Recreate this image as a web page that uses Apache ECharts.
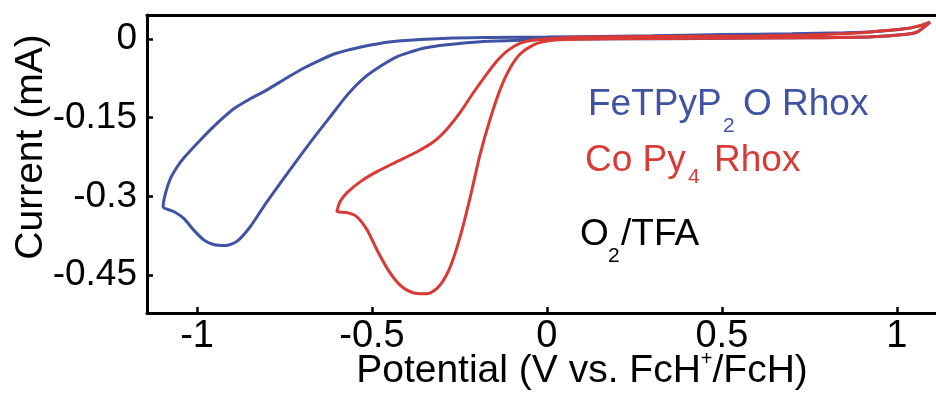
<!DOCTYPE html>
<html><head><meta charset="utf-8">
<script src="https://cdn.jsdelivr.net/npm/echarts@6/dist/echarts.min.js"></script>
<style>html,body{margin:0;padding:0;background:#fff}#c{width:936px;height:396px}</style>
</head><body><div id="c"></div>
<script>
const FONT = '"Liberation Sans", Arial, Helvetica, sans-serif';
const BLUE = '#3f52a3';
const RED = '#d93a36';

const xTickValues = [-1, -0.5, 0, 0.5, 1];
const xTickLabels = ['-1', '-0.5', '0', '0.5', '1'];
const yTickValues = [0, -0.15, -0.3, -0.45];
const yTickLabels = ['0', '-0.15', '-0.3', '-0.45'];

// FeTPyP2O Rhox cyclic voltammogram (V, mA)
const feX = [1.095, 1.06, 1.028, 0.932, 0.743, 0.45, 0.2, 0.0, -0.048, -0.19, -0.286, -0.35, -0.391, -0.429, -0.476, -0.524, -0.571, -0.619, -0.667, -0.714, -0.762, -0.810, -0.848, -0.886, -0.919, -0.953, -0.981, -1.010, -1.038, -1.067, -1.097,
  -1.090, -1.076, -1.057, -1.038, -0.991, -0.943, -0.895, -0.848, -0.800, -0.753, -0.705, -0.657, -0.610, -0.562, -0.5, -0.457, -0.362, -0.268, -0.171, 0.0, 0.3, 0.5, 0.7, 0.85, 0.932, 1.028, 1.07, 1.095];
const feY = [0.032, 0.014, 0.009, 0.0045, 0.0025, 0.0012, 0.0003, -0.0005, -0.002, -0.005, -0.011, -0.017, -0.025, -0.034, -0.052, -0.075, -0.107, -0.148, -0.189, -0.231, -0.275, -0.320, -0.358, -0.386, -0.394, -0.392, -0.383, -0.364, -0.342, -0.329, -0.320,
  -0.294, -0.266, -0.244, -0.227, -0.193, -0.161, -0.133, -0.114, -0.097, -0.078, -0.059, -0.043, -0.029, -0.020, -0.011, -0.006, -0.001, 0.002, 0.003, 0.004, 0.006, 0.0085, 0.010, 0.012, 0.014, 0.020, 0.026, 0.032];

// Co Py4 Rhox cyclic voltammogram (V, mA)
const coX = [1.095, 1.06, 1.028, 0.932, 0.743, 0.45, 0.2, 0.05, 0.0, -0.038, -0.076, -0.105, -0.133, -0.162, -0.191, -0.219, -0.248, -0.276, -0.305, -0.333, -0.362, -0.400, -0.429, -0.457, -0.486, -0.514, -0.543, -0.571, -0.600,
  -0.591, -0.571, -0.533, -0.486, -0.429, -0.371, -0.324, -0.286, -0.248, -0.210, -0.171, -0.143, -0.114, -0.076, -0.038, 0.067, 0.3, 0.6, 0.743, 0.846, 0.932, 1.028, 1.07, 1.095];
const coY = [0.032, 0.014, 0.009, 0.0045, 0.0025, 0.0013, 0.0005, -0.001, -0.004, -0.011, -0.028, -0.055, -0.095, -0.152, -0.220, -0.301, -0.377, -0.434, -0.469, -0.484, -0.486, -0.479, -0.463, -0.437, -0.402, -0.364, -0.339, -0.331, -0.329,
  -0.310, -0.293, -0.272, -0.253, -0.234, -0.215, -0.196, -0.172, -0.140, -0.102, -0.066, -0.042, -0.023, -0.008, -0.002, 0.003, 0.005, 0.0058, 0.0075, 0.010, 0.014, 0.020, 0.026, 0.032];

const feData = feX.map((x, i) => [x, feY[i]]);
const coData = coX.map((x, i) => [x, coY[i]]);

function labelFor(values, labels) {
  return v => {
    for (let i = 0; i < values.length; i++) if (Math.abs(v - values[i]) < 1e-6) return labels[i];
    return '';
  };
}

const chart = echarts.init(document.getElementById('c'), null, { renderer: 'canvas' });
const axisLineStyle = { color: '#000', width: 3 };
chart.setOption({
  animation: false,
  backgroundColor: '#fff',
  grid: { left: 147, right: 0, top: 15, bottom: 83, containLabel: false },
  xAxis: [{
    type: 'value', min: -1.143, max: 1.112, minInterval: 0.5, maxInterval: 0.5,
    axisLine: { show: true, onZero: false, lineStyle: axisLineStyle },
    axisTick: { show: true, inside: true, length: 6, lineStyle: { color: '#000', width: 2.5 } },
    axisLabel: { show: true, margin: 5, fontFamily: FONT, fontSize: 38, color: '#000', showMinLabel: false, showMaxLabel: false,
      formatter: labelFor(xTickValues, xTickLabels) },
    splitLine: { show: false }
  }, {
    type: 'value', position: 'top', min: -1.143, max: 1.112,
    axisLine: { show: true, onZero: false, lineStyle: axisLineStyle },
    axisTick: { show: false }, axisLabel: { show: false }, splitLine: { show: false }
  }],
  yAxis: {
    type: 'value', min: -0.5225, max: 0.0458, minInterval: 0.15, maxInterval: 0.15,
    axisLine: { show: true, onZero: false, lineStyle: axisLineStyle },
    axisTick: { show: true, inside: true, length: 6, lineStyle: { color: '#000', width: 2.5 } },
    axisLabel: { show: true, margin: 10, fontFamily: FONT, fontSize: 37, color: '#000', showMinLabel: false, showMaxLabel: false,
      padding: [9, 0, 0, 0], formatter: labelFor(yTickValues, yTickLabels) },
    splitLine: { show: false }
  },
  series: [
    { name: 'FeTPyP2O Rhox', type: 'line', data: feData, showSymbol: false, smooth: 0.25, clip: true,
      lineStyle: { color: BLUE, width: 3 }, itemStyle: { color: BLUE } },
    { name: 'Co Py4 Rhox', type: 'line', data: coData, showSymbol: false, smooth: 0.25, clip: true,
      lineStyle: { color: RED, width: 3 }, itemStyle: { color: RED } }
  ],
  graphic: [
    { type: 'text', x: 31, y: 147, rotation: Math.PI / 2,
      style: { text: 'Current (mA)', font: '39px ' + FONT, fill: '#000', align: 'center', verticalAlign: 'middle' } },
    { type: 'text', x: 582, y: 371,
      style: { text: '{a|Potential (V vs. FcH}{s|+}{a|/FcH)}', fill: '#000', align: 'center', verticalAlign: 'middle',
        rich: { a: { fontFamily: FONT, fontSize: 39, lineHeight: 44, fill: '#000' },
                s: { fontFamily: FONT, fontSize: 20, lineHeight: 22, verticalAlign: 'top', fill: '#000' } } } },
    { type: 'text', x: 588, y: 104.5, style: { text: 'FeTPyP', font: '37px ' + FONT, fill: BLUE, verticalAlign: 'middle' } },
    { type: 'text', x: 723, y: 126, style: { text: '2', font: '21px ' + FONT, fill: BLUE, verticalAlign: 'middle' } },
    { type: 'text', x: 743, y: 104.5, style: { text: 'O Rhox', font: '37px ' + FONT, fill: BLUE, verticalAlign: 'middle' } },
    { type: 'text', x: 585, y: 161, style: { text: 'Co Py', font: '37px ' + FONT, fill: RED, verticalAlign: 'middle' } },
    { type: 'text', x: 688, y: 177.5, style: { text: '4', font: '21px ' + FONT, fill: RED, verticalAlign: 'middle' } },
    { type: 'text', x: 714, y: 161, style: { text: 'Rhox', font: '37px ' + FONT, fill: RED, verticalAlign: 'middle' } },
    { type: 'text', x: 580, y: 235, style: { text: 'O', font: '37px ' + FONT, fill: '#000', verticalAlign: 'middle' } },
    { type: 'text', x: 608, y: 256.5, style: { text: '2', font: '21px ' + FONT, fill: '#000', verticalAlign: 'middle' } },
    { type: 'text', x: 621, y: 235, style: { text: '/TFA', font: '37px ' + FONT, fill: '#000', verticalAlign: 'middle' } }
  ]
});
</script></body></html>
